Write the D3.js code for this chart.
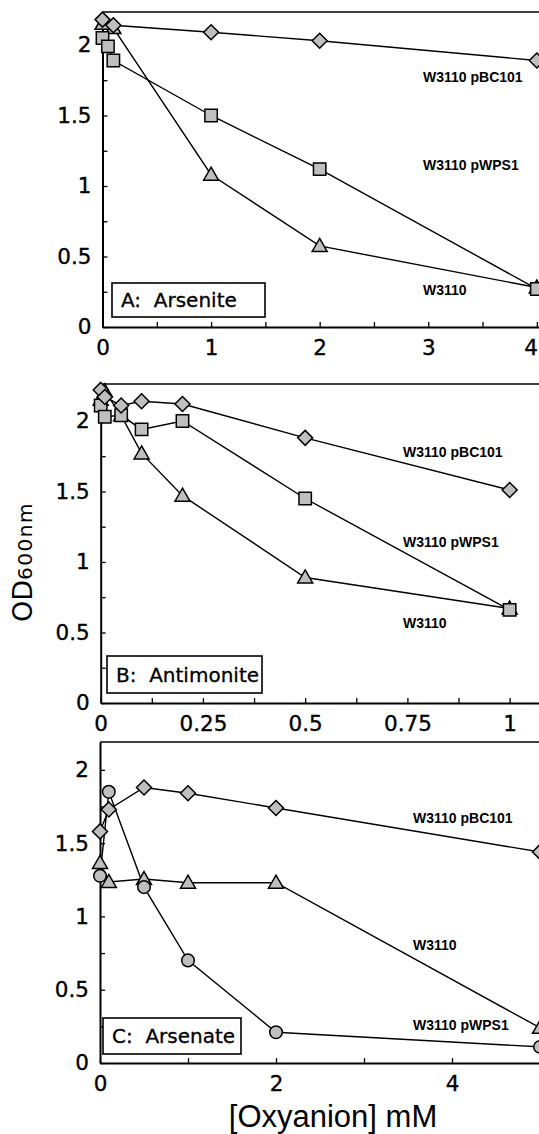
<!DOCTYPE html>
<html>
<head>
<meta charset="utf-8">
<script src="https://cdn.jsdelivr.net/npm/d3@7"></script>
<style>
  body { margin: 0; background: #fff; }
  text { font-family: "DejaVu Sans", sans-serif; }
</style>
</head>
<body>
<div id="hook"></div>
<script>
// Panel A: arsenite (mM)
var arsX_pBC101 = [0, 0.1, 1, 2, 4];
var arsY_pBC101 = [2.18, 2.14, 2.09, 2.03, 1.89];
var arsX_pWPS1 = [0, 0.05, 0.1, 1, 2, 4];
var arsY_pWPS1 = [2.05, 1.99, 1.89, 1.50, 1.12, 0.27];
var arsX_W3110 = [0, 0.1, 1, 2, 4];
var arsY_W3110 = [2.15, 2.12, 1.08, 0.575, 0.28];

// Panel B: antimonite (mM)
var antX = [0, 0.01, 0.05, 0.1, 0.2, 0.5, 1];
var antY_pBC101 = [2.22, 2.17, 2.11, 2.14, 2.12, 1.88, 1.51];
var antY_pWPS1 = [2.11, 2.03, 2.04, 1.94, 2.00, 1.45, 0.66];
var antY_W3110 = [2.15, 2.21, 2.04, 1.77, 1.47, 0.89, 0.67];

// Panel C: arsenate (mM)
var asaX = [0, 0.1, 0.5, 1, 2, 5];
var asaY_pBC101 = [1.58, 1.73, 1.88, 1.84, 1.74, 1.44];
var asaY_W3110 = [1.365, 1.235, 1.255, 1.23, 1.23, 0.24];
var asaY_pWPS1 = [1.277, 1.85, 1.20, 0.70, 0.21, 0.11];

// ticks
var yTicks = [0, 0.25, 0.5, 0.75, 1, 1.25, 1.5, 1.75, 2];
var yLabels = [0, 0.5, 1, 1.5, 2];
var arsTicks = [0, 0.5, 1, 1.5, 2, 2.5, 3, 3.5, 4];
var arsLabels = [0, 1, 2, 3, 4];
var antTicks = [0, 0.125, 0.25, 0.375, 0.5, 0.625, 0.75, 0.875, 1];
var antLabels = [0, 0.25, 0.5, 0.75, 1];
var asaTicks = [0, 1, 2, 3, 4, 5];
var asaLabels = [0, 2, 4];

var w = 539, h = 1134;
var fillGray = "#bfbfbf";

var svg = d3.select("#hook").append("svg")
    .attr("width", w)
    .attr("height", h);

function zip(xs, ys) {
    return xs.map(function (d, i) { return [d, ys[i]]; });
}

var shapes = {
    diamond: "M0,-7.5L7.5,0L0,7.5L-7.5,0Z",
    square: "M-6.2,-6.2H6.2V6.2H-6.2Z",
    triangle: "M0,-7.5L7.5,5.5L-7.5,5.5Z"
};

function drawPanel(p) {
    var x = d3.scaleLinear().domain(p.xDomain).range([p.left, w]);
    var y = d3.scaleLinear().domain(p.yDomain).range([p.bottom, p.top]);
    var g = svg.append("g");

    // top frame line
    g.append("line")
        .attr("x1", p.left).attr("x2", w)
        .attr("y1", p.top).attr("y2", p.top)
        .attr("stroke", "#000").attr("stroke-width", 1.6);

    var xAxis = d3.axisBottom(x)
        .tickValues(p.xTicks)
        .tickSizeInner(-5).tickSizeOuter(0)
        .tickPadding(13)
        .tickFormat(function (d) { return p.xLabels.indexOf(d) >= 0 ? d : ""; });
    var gx = g.append("g").attr("transform", "translate(0," + p.bottom + ")").call(xAxis);

    var yAxis = d3.axisLeft(y)
        .tickValues(yTicks)
        .tickSizeInner(-5).tickSizeOuter(0)
        .tickPadding(11)
        .tickFormat(function (d) { return yLabels.indexOf(d) >= 0 ? d : ""; });
    var gy = g.append("g").attr("transform", "translate(" + p.left + ",0)").call(yAxis);

    [gx, gy].forEach(function (a) {
        a.select(".domain").attr("stroke-width", 2);
        a.selectAll(".tick line").attr("stroke-width", 1.3);
        a.selectAll("text")
            .style("font-family", "DejaVu Sans")
            .style("font-size", "21.5px")
            .attr("fill", "#000")
            .attr("stroke", "#000").attr("stroke-width", 0.35);
    });
    // keep a label that sits on the right edge inside the picture
    gx.selectAll(".tick text")
        .filter(function (d) { return x(d) > w - 8; })
        .attr("text-anchor", "end")
        .attr("dx", 0.5);

    var line = d3.line()
        .x(function (d) { return x(d[0]); })
        .y(function (d) { return y(d[1]); });

    p.series.forEach(function (s) {
        g.append("path")
            .datum(s.data)
            .attr("d", line)
            .attr("fill", "none")
            .attr("stroke", "#000")
            .attr("stroke-width", 1.4);
    });

    p.series.forEach(function (s) {
        var m = g.selectAll(null).data(s.data).enter();
        if (s.shape === "circle") {
            m.append("circle")
                .attr("cx", function (d) { return x(d[0]); })
                .attr("cy", function (d) { return y(d[1]); })
                .attr("r", 6.3)
                .attr("fill", fillGray)
                .attr("stroke", "#000")
                .attr("stroke-width", 1.5);
        } else {
            m.append("path")
                .attr("d", shapes[s.shape])
                .attr("transform", function (d) { return "translate(" + x(d[0]) + "," + y(d[1]) + ")"; })
                .attr("fill", fillGray)
                .attr("stroke", "#000")
                .attr("stroke-width", 1.5);
        }
    });

    p.notes.forEach(function (n) {
        g.append("text")
            .attr("x", n[1]).attr("y", n[2])
            .style("font-family", "Liberation Sans")
            .style("font-weight", "bold")
            .style("font-size", "14px")
            .text(n[0]);
    });

    var b = p.box;
    g.append("rect")
        .attr("x", b[1]).attr("y", b[2])
        .attr("width", b[3]).attr("height", b[4])
        .attr("fill", "#fff")
        .attr("stroke", "#000").attr("stroke-width", 1.6);
    g.append("text")
        .attr("x", b[1] + 9).attr("y", b[2] + b[4] / 2 + 7.3)
        .style("font-size", "20px")
        .style("white-space", "pre")
        .attr("stroke", "#000").attr("stroke-width", 0.3)
        .text(b[0]);
}

drawPanel({
    left: 102.5, top: 12, bottom: 327,
    xDomain: [0, 4.02], yDomain: [0, 2.234],
    xTicks: arsTicks, xLabels: arsLabels,
    series: [
        { shape: "triangle", data: zip(arsX_W3110, arsY_W3110) },
        { shape: "square", data: zip(arsX_pWPS1, arsY_pWPS1) },
        { shape: "diamond", data: zip(arsX_pBC101, arsY_pBC101) }
    ],
    notes: [["W3110 pBC101", 423, 82], ["W3110 pWPS1", 423, 170], ["W3110", 423, 295]],
    box: ["A:  Arsenite", 112, 283, 153, 34]
});

drawPanel({
    left: 100.7, top: 384, bottom: 703,
    xDomain: [0, 1.0718], yDomain: [0, 2.262],
    xTicks: antTicks, xLabels: antLabels,
    series: [
        { shape: "triangle", data: zip(antX, antY_W3110) },
        { shape: "square", data: zip(antX, antY_pWPS1) },
        { shape: "diamond", data: zip(antX, antY_pBC101) }
    ],
    notes: [["W3110 pBC101", 403, 457], ["W3110 pWPS1", 403, 547], ["W3110", 403, 628]],
    box: ["B:  Antimonite", 107, 656, 155, 37]
});

drawPanel({
    left: 100, top: 742, bottom: 1063,
    xDomain: [0, 4.9886], yDomain: [0, 2.19],
    xTicks: asaTicks, xLabels: asaLabels,
    series: [
        { shape: "triangle", data: zip(asaX, asaY_W3110) },
        { shape: "circle", data: zip(asaX, asaY_pWPS1) },
        { shape: "diamond", data: zip(asaX, asaY_pBC101) }
    ],
    notes: [["W3110 pBC101", 413, 823], ["W3110", 413, 950], ["W3110 pWPS1", 413, 1030]],
    box: ["C:  Arsenate", 103, 1018, 138, 36]
});

// axis titles
var yt = svg.append("text")
    .attr("transform", "translate(32,622) rotate(-90)");
yt.append("tspan").style("font-size", "27px").text("OD");
yt.append("tspan").style("font-size", "20px").style("letter-spacing", "1.5px").text("600nm");

svg.append("text")
    .attr("x", 333).attr("y", 1127)
    .attr("text-anchor", "middle")
    .style("font-family", "Liberation Sans")
    .style("font-size", "31px")
    .text("[Oxyanion] mM");
</script>
</body>
</html>
